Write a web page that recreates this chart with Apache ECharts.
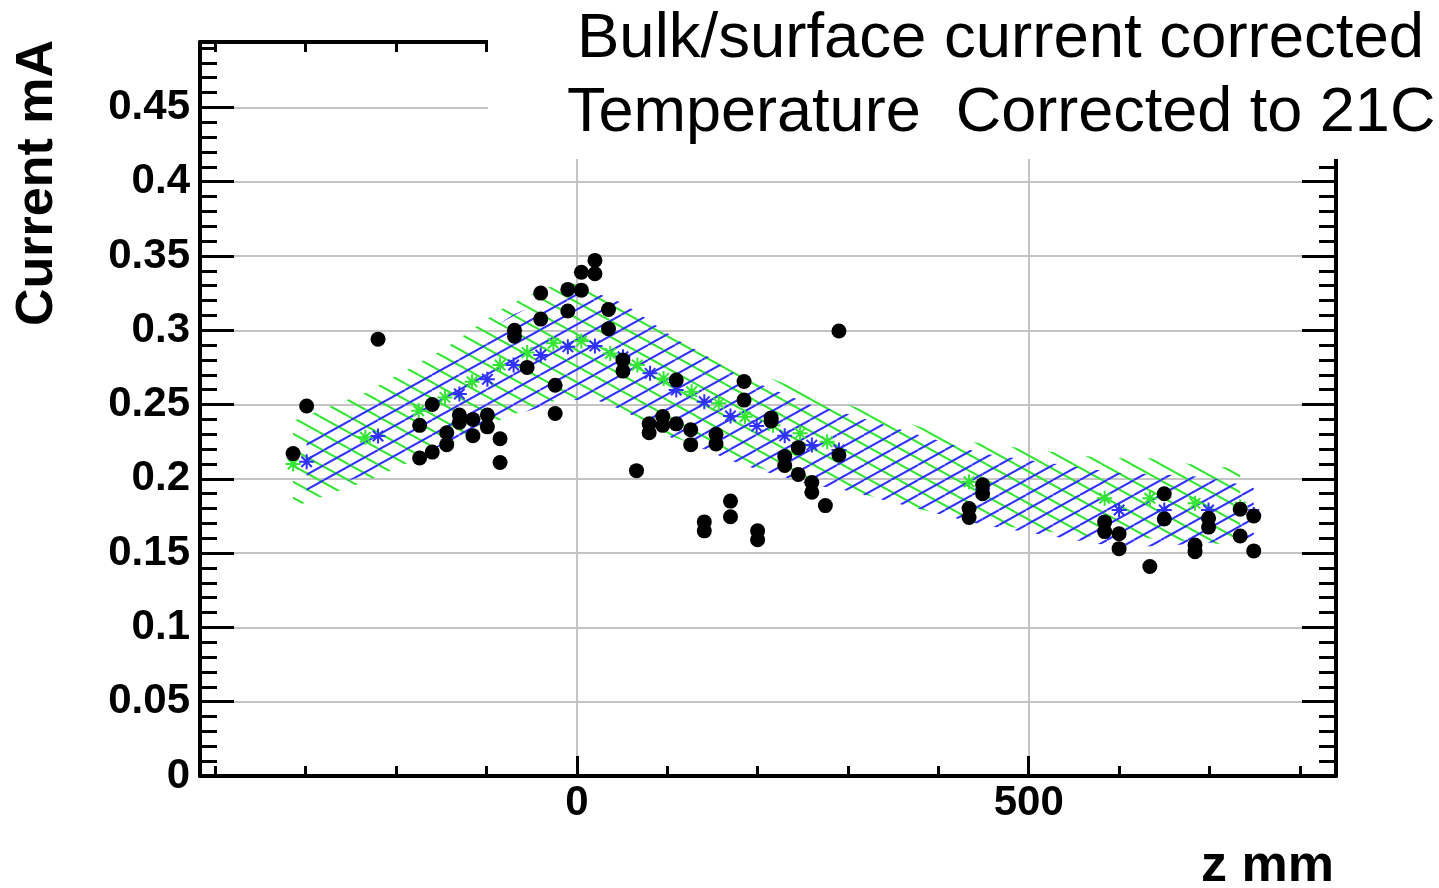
<!DOCTYPE html>
<html><head><meta charset="utf-8">
<script src="https://cdn.jsdelivr.net/npm/echarts@6/dist/echarts.min.js"></script>
<style>html,body{margin:0;padding:0;background:#fff}#c{width:1439px;height:888px}</style>
</head><body><div id="c"></div>
<script>
// ---- data ----
const dotZ = [-314,-299,-220,-174,-174,-160,-160,-144,-144,-130,-130,-115,-115,-99,-99,-85,-85,-69,-69,-55,-40,-40,-24,-24,-10,-10,5,5,20,20,35,35,51,51,66,80,80,95,95,110,110,126,126,141,141,154,154,170,170,185,185,200,200,215,215,230,230,245,245,260,260,275,290,290,434,434,449,449,584,584,600,600,634,650,650,684,684,699,699,734,734,749,749];
const dotI = [0.217,0.249,0.294,0.236,0.214,0.250,0.218,0.231,0.223,0.243,0.238,0.240,0.229,0.243,0.235,0.227,0.211,0.300,0.296,0.275,0.325,0.3075,0.263,0.244,0.3275,0.313,0.339,0.327,0.347,0.338,0.314,0.301,0.280,0.2725,0.2055,0.237,0.231,0.242,0.236,0.2665,0.237,0.233,0.223,0.171,0.165,0.230,0.2235,0.185,0.1745,0.2655,0.253,0.165,0.159,0.241,0.239,0.215,0.209,0.221,0.203,0.1975,0.191,0.182,0.2995,0.216,0.180,0.174,0.196,0.190,0.171,0.1645,0.163,0.153,0.141,0.190,0.173,0.1555,0.151,0.1735,0.1675,0.1795,0.1615,0.175,0.1515];

const blueZ = [-299,-220,-130,-99,-70,-40,-10,20,51,81,110,141,170,199,230,260,290,449,600,650,699,749];
const blueI = [0.2115,0.2288,0.2571,0.2670,0.2766,0.2833,0.2889,0.2894,0.2822,0.2710,0.2598,0.2519,0.2423,0.2355,0.2290,0.2227,0.2194,0.193,0.179,0.179,0.179,0.176];
const blueErr = [0.021,0.024,0.030,0.032,0.034,0.035,0.036,0.036,0.036,0.035,0.034,0.032,0.030,0.029,0.028,0.027,0.026,0.024,0.025,0.024,0.022,0.018];

const greenZ = [-314,-234,-175,-146,-116,-85,-55,-26,5,37,67,96,127,157,186,217,247,277,434,584,634,684,734];
const greenI = [0.210,0.228,0.2458,0.2548,0.2653,0.2766,0.285,0.2912,0.2927,0.2844,0.2766,0.2676,0.2586,0.2508,0.2418,0.236,0.2306,0.2250,0.198,0.1869,0.1869,0.1835,0.181];
const greenErr = [0.029,0.030,0.032,0.033,0.035,0.037,0.038,0.039,0.039,0.039,0.038,0.037,0.035,0.033,0.032,0.031,0.030,0.029,0.027,0.027,0.027,0.026,0.026];

const xMajorTicks = [0, 500];
const xMinorTicks = [-400,-300,-200,-100,100,200,300,400,600,700,800];
const yMajorTicks = [0,0.05,0.1,0.15,0.2,0.25,0.3,0.35,0.4,0.45];
const yMinorTicks = [0.01,0.02,0.03,0.04,0.06,0.07,0.08,0.09,0.11,0.12,0.13,0.14,0.16,0.17,0.18,0.19,0.21,0.22,0.23,0.24,0.26,0.27,0.28,0.29,0.31,0.32,0.33,0.34,0.36,0.37,0.38,0.39,0.41,0.42,0.43,0.44,0.46,0.47,0.48,0.49];

const legendLines = ['Bulk/surface current corrected', 'Temperature  Corrected to 21C'];
const xTitle = 'z mm';
const yTitle = 'Current mA';

// ---- rendering ----
const FONT = '"Liberation Sans", Arial, Helvetica, sans-serif';
const X_MIN = -417, X_MAX = 840, Y_MIN = 0, Y_MAX = 0.494;

function hatch(color, w, h, rising) {
  const c = document.createElement('canvas');
  c.width = w; c.height = h;
  const g = c.getContext('2d');
  g.strokeStyle = color; g.lineWidth = 2;
  for (let k = -1; k <= 1; k++) {
    g.beginPath();
    if (rising) { g.moveTo(0, h + k * h); g.lineTo(w, k * h); }
    else { g.moveTo(0, k * h); g.lineTo(w, h + k * h); }
    g.stroke();
  }
  return c;
}
const bluePattern = hatch('#3030ff', 27, 15, true);
const greenPattern = hatch('#33e633', 29, 16, false);

function bandSeries(name, zs, cs, es, pattern, zz) {
  return {
    type: 'custom', name: name, z: zz, silent: true,
    xAxisIndex: 0, yAxisIndex: 0, clip: true,
    data: zs.map((x, i) => [x, cs[i] - es[i], cs[i] + es[i]]),
    encode: { x: 0, y: [1, 2] },
    renderItem: function (params, api) {
      const i = params.dataIndexInside;
      if (i >= params.dataInsideLength - 1) return { type: 'group', children: [] };
      const a = api.coord([api.value(0, i), api.value(2, i)]);
      const b = api.coord([api.value(0, i + 1), api.value(2, i + 1)]);
      const c = api.coord([api.value(0, i + 1), api.value(1, i + 1)]);
      const d = api.coord([api.value(0, i), api.value(1, i)]);
      return { type: 'polygon', shape: { points: [a, b, c, d] },
        style: { fill: { image: pattern, repeat: 'repeat' }, stroke: null } };
    }
  };
}

const STAR = 'path://M0,5L10,5M5,0L5,10M1.5,1.5L8.5,8.5M1.5,8.5L8.5,1.5';

function mkX(pos, ticks, len, showLine, labels, split) {
  return {
    type: 'value', min: X_MIN, max: X_MAX, position: pos,
    axisLine: { show: showLine, onZero: false, lineStyle: { color: '#000', width: 4 } },
    axisTick: { show: true, inside: true, length: len, customValues: ticks, lineStyle: { color: '#000', width: 3 } },
    axisLabel: labels ? { customValues: ticks, color: '#000', fontSize: 42, fontWeight: 'bold', fontFamily: FONT, margin: 6 } : { show: false },
    splitLine: { show: split, lineStyle: { color: '#c4c4c4', width: 2 } }
  };
}
function mkY(pos, ticks, len, showLine, labels, split) {
  return {
    type: 'value', min: Y_MIN, max: Y_MAX, position: pos,
    axisLine: { show: showLine, onZero: false, lineStyle: { color: '#000', width: 4 } },
    axisTick: { show: true, inside: true, length: len, customValues: ticks, lineStyle: { color: '#000', width: 3 } },
    axisLabel: labels ? { customValues: ticks, color: '#000', fontSize: 42, fontWeight: 'bold', fontFamily: FONT, margin: 10 } : { show: false },
    splitLine: { show: split, lineStyle: { color: '#c4c4c4', width: 2 } }
  };
}

const chart = echarts.init(document.getElementById('c'), null, { renderer: 'canvas' });
chart.setOption({
  animation: false,
  backgroundColor: '#fff',
  grid: { left: 200, right: 103, top: 42, bottom: 112, containLabel: false },
  xAxis: [
    mkX('bottom', xMajorTicks, 20, true, true, true),
    mkX('bottom', xMinorTicks, 10, false, false, false),
    mkX('top', xMajorTicks, 20, true, false, false),
    mkX('top', xMinorTicks, 10, false, false, false)
  ],
  yAxis: [
    mkY('left', yMajorTicks, 34, true, true, true),
    mkY('left', yMinorTicks, 17, false, false, false),
    mkY('right', yMajorTicks, 34, true, false, false),
    mkY('right', yMinorTicks, 17, false, false, false)
  ],
  series: [
    bandSeries(legendLines[1], greenZ, greenI, greenErr, greenPattern, 2),
    bandSeries(legendLines[0], blueZ, blueI, blueErr, bluePattern, 3),
    { type: 'scatter', name: 'green', z: 4, silent: true, symbol: STAR, symbolSize: 15,
      itemStyle: { color: '#33e633', borderColor: '#33e633', borderWidth: 2, opacity: 1 },
      data: greenZ.map((x, i) => [x, greenI[i]]) },
    { type: 'scatter', name: 'blue', z: 5, silent: true, symbol: STAR, symbolSize: 15,
      itemStyle: { color: '#3030ff', borderColor: '#3030ff', borderWidth: 2, opacity: 1 },
      data: blueZ.map((x, i) => [x, blueI[i]]) },
    { type: 'scatter', name: 'data', z: 6, silent: true, symbol: 'circle', symbolSize: 15,
      itemStyle: { color: '#000', opacity: 1 },
      data: dotZ.map((x, i) => [x, dotI[i]]) }
  ],
  graphic: [
    { type: 'rect', x: 488, y: 0, z: 100, shape: { width: 951, height: 159 }, style: { fill: '#fff' } },
    { type: 'text', x: 577, y: 39, z: 101, style: { text: legendLines[0], font: '63.5px ' + FONT, fill: '#000', textAlign: 'left', textVerticalAlign: 'middle' } },
    { type: 'text', x: 567, y: 114, z: 101, style: { text: legendLines[1], font: '63px ' + FONT, fill: '#000', textAlign: 'left', textVerticalAlign: 'middle' } },
    { type: 'text', x: 38, y: 40, z: 101, rotation: Math.PI / 2, style: { text: yTitle, font: 'bold 52px ' + FONT, fill: '#000', textAlign: 'right', textVerticalAlign: 'middle' } },
    { type: 'text', x: 1334, y: 867, z: 101, style: { text: xTitle, font: 'bold 52px ' + FONT, fill: '#000', textAlign: 'right', textVerticalAlign: 'middle' } }
  ]
});
</script>
</body></html>
